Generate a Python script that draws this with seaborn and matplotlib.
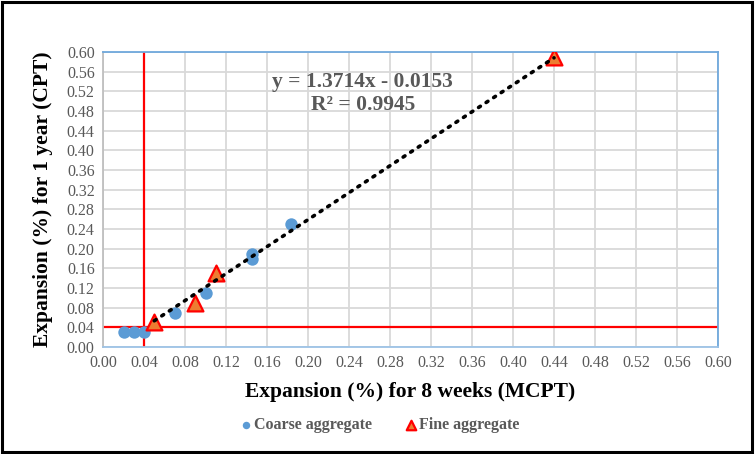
import matplotlib
matplotlib.use("Agg")
import matplotlib.pyplot as plt
import seaborn as sns
import numpy as np
import pandas as pd
from matplotlib.patches import Rectangle

# ---- data ----
coarse_x = [0.02, 0.03, 0.04, 0.07, 0.10, 0.145, 0.145, 0.183]
coarse_y = [0.03, 0.03, 0.03, 0.07, 0.11, 0.19, 0.18, 0.25]
fine_x = [0.05, 0.09, 0.11, 0.44]
fine_y = [0.05, 0.09, 0.15, 0.59]
trend_slope = 1.3714
trend_intercept = -0.0153
trend_r2 = 0.9945
limit_x = 0.04
limit_y = 0.04
ticks = [round(0.04 * i, 2) for i in range(16)]
tick_labels = [f"{t:.2f}" for t in ticks]

sns.set_style("white")
plt.rcParams['font.family'] = ['Liberation Serif', 'DejaVu Serif']

fig = plt.figure(figsize=(7.55, 4.54), dpi=100)
ax = fig.add_axes([103/755, 1-347/454, (718-103)/755, (347-52)/454])

df_c = pd.DataFrame({"x": coarse_x, "y": coarse_y})
df_f = pd.DataFrame({"x": fine_x, "y": fine_y})

ax.axvline(limit_x, color="#ff0000", lw=1.6, zorder=2)
ax.axhline(limit_y, color="#ff0000", lw=1.6, zorder=2)

sns.scatterplot(data=df_c, x="x", y="y", ax=ax, marker="o", s=80,
                color="#5b9bd5", edgecolor="#5b9bd5", linewidth=0,
                label="Coarse aggregate", zorder=3)
sns.scatterplot(data=df_f, x="x", y="y", ax=ax, marker="^", s=130,
                color="#ed7d31", edgecolor="#ff0000", linewidth=1.6,
                label="Fine aggregate", zorder=4)

tx = np.array([min(fine_x), max(fine_x)])
ax.plot(tx, trend_slope * tx + trend_intercept, color="black", lw=2.6,
        linestyle=(0, (0.6, 1.9)), dash_capstyle="round", zorder=5)

ax.text(0.2535, 0.539, f"y = {trend_slope}x - {abs(trend_intercept)}",
        ha="center", va="center", fontsize=15.5, fontweight="bold", color="#595959")
ax.text(0.2535, 0.492, f"R² = {trend_r2}",
        ha="center", va="center", fontsize=15.5, fontweight="bold", color="#595959")

ax.set_xlim(0, 0.60)
ax.set_ylim(0, 0.60)
ax.set_xticks(ticks)
ax.set_xticklabels(tick_labels)
ax.set_yticks(ticks)
ax.set_yticklabels(tick_labels)
ax.tick_params(axis="both", labelsize=11.5, colors="#595959", length=0, pad=6)
ax.grid(True, color="#d9d9d9", lw=1.3, zorder=0)
ax.set_axisbelow(True)

for s in ["top", "right"]:
    ax.spines[s].set_color("#6fa8dc")
    ax.spines[s].set_linewidth(1.3)
ax.spines["bottom"].set_color("#9dc3e6")
ax.spines["bottom"].set_linewidth(1.3)
ax.spines["left"].set_color("#bfbfbf")
ax.spines["left"].set_linewidth(1.3)

ax.set_xlabel("Expansion (%) for 8 weeks (MCPT)", fontsize=15.5, fontweight="bold",
              color="black", labelpad=8)
ax.set_ylabel("Expansion (%) for 1 year (CPT)", fontsize=15.5, fontweight="bold",
              color="black", labelpad=10)

ax.legend_.remove()
h, l = ax.get_legend_handles_labels()
leg = fig.legend(h[:2], l[:2], loc="center", bbox_to_anchor=(378/755, 1-425/454),
                 ncol=2, frameon=False, fontsize=11.5, handletextpad=-0.1,
                 handlelength=1.2, columnspacing=1.8, markerscale=0.6)
for t in leg.get_texts():
    t.set_color("#595959")
    t.set_fontweight("bold")

fig.patches.append(Rectangle((0.003, 0.004), 0.993, 0.992, transform=fig.transFigure,
                             fill=False, edgecolor="black", lw=2.2))

fig.savefig("out.png", dpi=100)
